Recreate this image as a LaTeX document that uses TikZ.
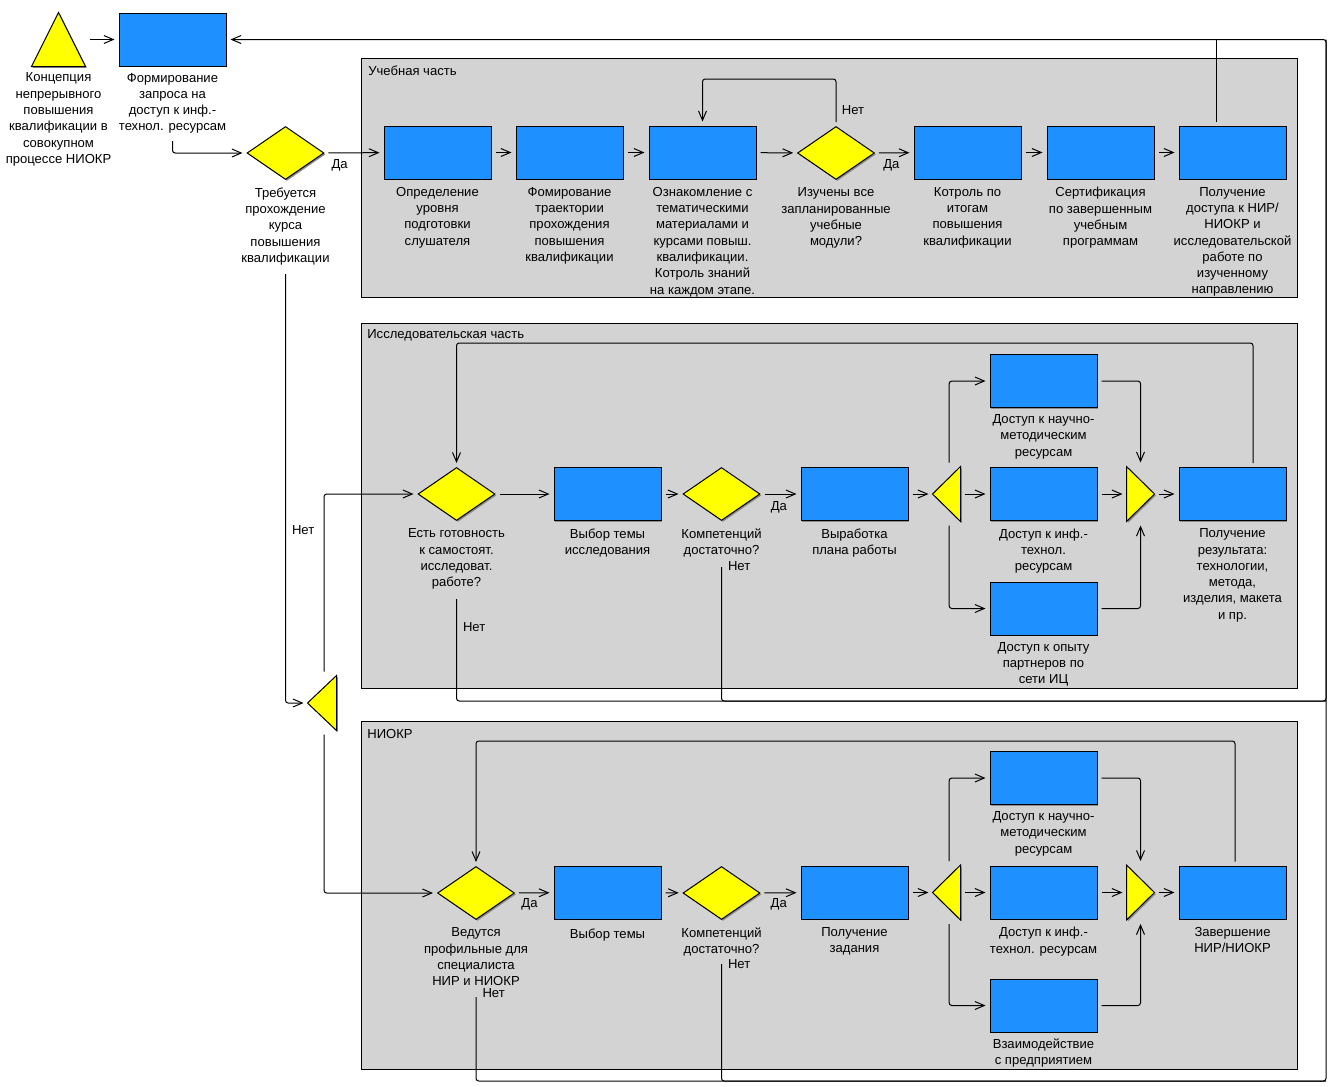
\documentclass[tikz,border=0pt]{standalone}
\usepackage{fontspec}
\setmainfont{Liberation Sans}
\usetikzlibrary{arrows.meta,chains,positioning,scopes,shapes.geometric,shadows}
\definecolor{taskblue}{RGB}{30,144,255}
\definecolor{gateyellow}{RGB}{255,255,0}
\definecolor{lanegray}{RGB}{211,211,211}
\tikzset{>={Straight Barb[length=7pt,width=6pt]},
	every join/.style={flow}}
\tikzstyle{flow}=[->, shorten >=3pt, shorten <=3pt, rounded corners=2pt]
\tikzstyle{link}=[shorten <=3pt, rounded corners=2pt]
\tikzstyle{shadowed}=[drop shadow={shadow xshift=1.1pt, shadow yshift=-1.1pt, fill=black!45, opacity=1}]
\tikzstyle{task}=[draw, fill=taskblue, shadowed, minimum width=80.25pt, minimum height=39.75pt, inner sep=0pt]
\tikzstyle{query}=[diamond, draw, fill=gateyellow, shadowed, minimum width=57.75pt, minimum height=39.75pt, inner sep=0pt]
\tikzstyle{gate}=[minimum width=20.25pt, minimum height=40.5pt, inner sep=0pt]
\tikzstyle{gatefill}=[draw, fill=gateyellow, shadowed]
\tikzstyle{caption}=[align=center, inner sep=1pt, label distance=4.5pt,
	font=\fontsize{9.8}{12.2}\selectfont, execute at begin node=\strut]
\tikzstyle{answer}=[inner sep=1pt, font=\fontsize{9.8}{12.2}\selectfont]
\tikzstyle{lane}=[draw, fill=lanegray]
\newcommand{\splittri}[1]{\path[gatefill] (#1.west) -- (#1.north east) -- (#1.south east) -- cycle;}
\newcommand{\mergetri}[1]{\path[gatefill] (#1.east) -- (#1.north west) -- (#1.south west) -- cycle;}

\begin{document}
\begin{tikzpicture}[x=0.75pt, y=-0.75pt, line width=0.75pt]
	\useasboundingbox (0,0) rectangle (1333,1086);
	% lanes
	\path[lane] (361,58) rectangle (1297,297);
	\path[lane] (361,323) rectangle (1297,688);
	\path[lane] (361,721) rectangle (1297,1069);
	\node[answer, anchor=west] (lane1) at (366.5,70.5) {Учебная часть};
	\node[answer, anchor=west] (lane2) at (365.5,335.5) {Исследовательская часть};
	\node[answer, anchor=west] (lane3) at (365.5,733.5) {НИОКР};
	
	% start
	\node[gate, minimum width=39.75pt, minimum height=39.75pt,
		label={[caption, label distance=3.5pt]below:{Концепция\\непрерывного\\повышения\\квалификации в\\совокупном\\процессе НИОКР}}] (conc) at (58.5,39.5) {};
	\path[gatefill] (conc.north) -- (conc.south east) -- (conc.south west) -- cycle;
	\node[task, label={[caption, label distance=3.5pt]below:{Формирование\\запроса на\\доступ к инф.-\\технол. ресурсам}}] (form) at (172.5,39.5) {};
	\node[query, label={[caption]below:{Требуется\\прохождение\\курса\\повышения\\квалификации}}] (treb) at (285.5,153) {};
	\node[gate, minimum width=21pt] (fork) at (322,703) {};
	\splittri{fork}
	
	% lane 1
	\node[task, label={[caption]below:{Определение\\уровня\\подготовки\\слушателя}}] (opr) at (437.5,152.5) {};
	\node[task, label={[caption]below:{Фомирование\\траектории\\прохождения\\повышения\\квалификации}}] (fom) at (569.5,152.5) {};
	\node[task, label={[caption]below:{Ознакомление с\\тематическими\\материалами и\\курсами повыш.\\квалификации.\\Котроль знаний\\на каждом этапе.}}] (ozn) at (702.5,152.5) {};
	\node[query, label={[caption]below:{Изучены все\\запланированные\\учебные\\модули?}}] (izuch) at (836,153) {};
	\node[task, label={[caption]below:{Котроль по\\итогам\\повышения\\квалификации}}] (kontr) at (967.5,152.5) {};
	\node[task, label={[caption]below:{Сертификация\\по завершенным\\учебным\\программам}}] (sert) at (1100.5,152.5) {};
	\node[task, label={[caption]below:{Получение\\доступа к НИР/\\НИОКР и\\исследовательской\\работе по\\изученному\\направлению}}] (dost) at (1232.5,152.5) {};
	
	% lane 2
	\node[query, label={[caption]below:{Есть готовность\\к самостоят.\\исследоват.\\работе?}}] (est) at (456.5,494) {};
	\node[task, label={[caption]below:{Выбор темы\\исследования}}] (vyb1) at (607.5,494) {};
	\node[query, label={[caption]below:{Компетенций\\достаточно?}}] (komp1) at (721.5,494) {};
	\node[task, label={[caption]below:{Выработка\\плана работы}}] (vyr) at (854.5,494) {};
	\node[gate] (split1) at (946.5,494) {};
	\splittri{split1}
	\node[task, label={[caption, label distance=3.5pt]below:{Доступ к научно-\\методическим\\ресурсам}}] (nauch1) at (1043.5,381) {};
	\node[task, label={[caption]below:{Доступ к инф.-\\технол.\\ресурсам}}] (inf1) at (1043.5,494) {};
	\node[task, label={[caption, label distance=3.5pt]below:{Доступ к опыту\\партнеров по\\сети ИЦ}}] (opyt) at (1043.5,608.5) {};
	\node[gate] (merge1) at (1140.5,494) {};
	\mergetri{merge1}
	\node[task, label={[caption]below:{Получение\\результата:\\технологии,\\метода,\\изделия, макета\\и пр.}}] (res) at (1232.5,494) {};
	
	% lane 3
	\node[query, label={[caption]below:{Ведутся\\профильные для\\специалиста\\НИР и НИОКР}}] (ved) at (476,893) {};
	\node[task, label={[caption]below:{Выбор темы}}] (vyb2) at (607.5,892.5) {};
	\node[query, label={[caption]below:{Компетенций\\достаточно?}}] (komp2) at (721.5,893) {};
	\node[task, label={[caption]below:{Получение\\задания}}] (zad) at (854.5,892.5) {};
	\node[gate] (split2) at (946.5,892.5) {};
	\splittri{split2}
	\node[task, label={[caption, label distance=3.5pt]below:{Доступ к научно-\\методическим\\ресурсам}}] (nauch2) at (1043.5,778) {};
	\node[task, label={[caption]below:{Доступ к инф.-\\технол. ресурсам}}] (inf2) at (1043.5,892.5) {};
	\node[task, label={[caption, label distance=3.5pt]below:{Взаимодействие\\с предприятием}}] (vzaim) at (1043.5,1005.5) {};
	\node[gate] (merge2) at (1140.5,892.5) {};
	\mergetri{merge2}
	\node[task, label={[caption]below:{Завершение\\НИР/НИОКР}}] (zav) at (1232.5,892.5) {};
	
	\coordinate (rtop) at (1326,39.5);
	\coordinate (rbot) at (1326,1081);
	\coordinate (rejoin) at (1216,39.5);
	
	% straight runs
	{ [start chain]
		\chainin (conc);
		\chainin (form) [join];
	}
	{ [start chain]
		\chainin (opr);
		\chainin (fom) [join];
		\chainin (ozn) [join];
		\chainin (izuch) [join];
	}
	{ [start chain]
		\chainin (kontr);
		\chainin (sert) [join];
		\chainin (dost) [join];
	}
	{ [start chain]
		\chainin (est);
		\chainin (vyb1) [join];
		\chainin (komp1) [join];
	}
	{ [start chain]
		\chainin (vyr);
		\chainin (split1) [join];
		\chainin (inf1) [join];
		\chainin (merge1) [join];
		\chainin (res) [join];
	}
	{ [start chain]
		\chainin (vyb2);
		\chainin (komp2) [join];
	}
	{ [start chain]
		\chainin (zad);
		\chainin (split2) [join];
		\chainin (inf2) [join];
		\chainin (merge2) [join];
		\chainin (zav) [join];
	}
	
	% decisions
	\draw[flow] (form.south |- 0,137) |- (treb.west);
	\draw[flow] (treb) -- node[answer, below=4pt, pos=.26] {Да} (opr);
	\draw[flow] (izuch) -- node[answer, below=4pt, pos=.43] {Да} (kontr);
	\draw[flow] (izuch.north) -- node[answer, right=3pt, pos=.33] {Нет} (izuch.north |- 0,79) -| (ozn.north);
	\draw[flow] (komp1) -- node[answer, below=4pt, pos=.46] {Да} (vyr);
	\draw[flow] (ved) -- node[answer, below=3pt, pos=.38] {Да} (vyb2);
	\draw[flow] (komp2) -- node[answer, below=3pt, pos=.46] {Да} (zad);
	\draw[flow] (treb.south |- 0,270) |- node[answer, right=3.5pt, pos=.3] {Нет} (fork.west);
	\draw[flow] ([xshift=1.5pt]fork.north) |- (est.west);
	\draw[flow] ([xshift=1.5pt]fork.south) |- (ved.west);
	
	% branches
	\draw[flow] ([xshift=2pt]split1.north) |- (nauch1.west);
	\draw[flow] ([xshift=2pt]split1.south) |- (opyt.west);
	\draw[flow] (nauch1.east) -| (merge1.north);
	\draw[flow] (opyt.east) -| (merge1.south);
	\draw[flow] ([xshift=2pt]split2.north) |- (nauch2.west);
	\draw[flow] ([xshift=2pt]split2.south) |- (vzaim.west);
	\draw[flow] (nauch2.east) -| (merge2.north);
	\draw[flow] (vzaim.east) -| (merge2.south);
	
	% loops back
	\draw[flow] (res.north -| 1253,0) |- (est.north |- 0,343) -- (est.north);
	\draw[flow] (zav.north -| 1235,0) |- (ved.north |- 0,741) -- (ved.north);
	\draw[link] (dost.north -| rejoin) -- (rejoin);
	\draw[flow] (ved.south |- 0,993) -- node[answer, right=3.5pt, pos=0] {Нет} (ved.south |- rbot) -- (rbot) -- (rtop) -- (form.east);
	\draw[link] (komp2.south |- 0,960) -- node[answer, right=3.5pt, pos=.03] {Нет} (komp2.south |- rbot) -- (rbot);
	\draw[link] (est.south |- 0,595) -- node[answer, right=3.5pt, pos=.3] {Нет} (est.south |- 0,701) -| (rtop);
	\draw[link] (komp1.south |- 0,563) -- node[answer, right=3.5pt, pos=.02] {Нет} (komp1.south |- 0,701) -- (rtop |- 0,701);
\end{tikzpicture}
\end{document}
